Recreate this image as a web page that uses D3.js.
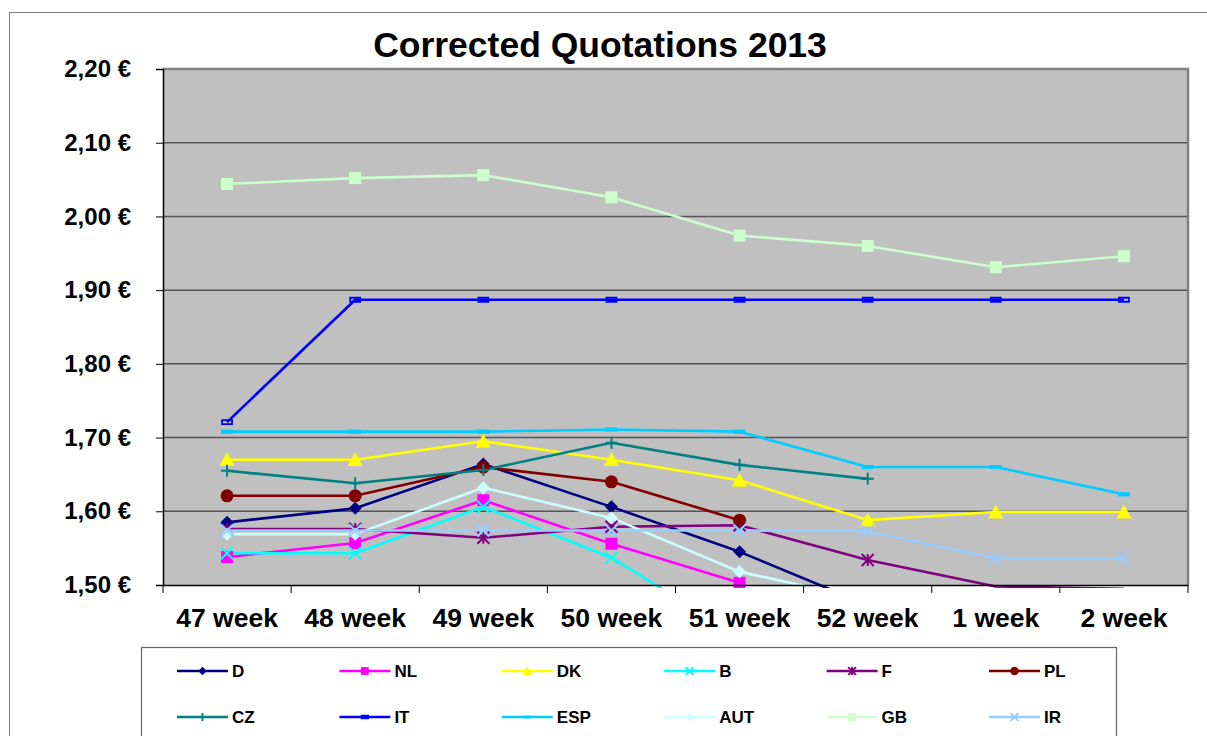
<!DOCTYPE html>
<html><head><meta charset="utf-8">
<script src="https://cdn.jsdelivr.net/npm/d3@7/dist/d3.min.js"></script>
<style>
body{margin:0;background:#fff;}
text{font-family:"Liberation Sans",Arial,sans-serif;font-weight:bold;fill:#000;}
</style></head><body>
<svg id="c" width="1207" height="736"></svg>
<script>
const categories = ["47 week","48 week","49 week","50 week","51 week","52 week","1 week","2 week"];
const yTicks = [1.5,1.6,1.7,1.8,1.9,2.0,2.1,2.2];
const D   = [1.585,1.604,1.664,1.606,1.545,1.473,null,null];
const NL  = [1.538,1.557,1.615,1.556,1.503,null,null,null];
const DK  = [1.670,1.670,1.695,1.670,1.642,1.588,1.599,1.599];
const B   = [1.543,1.543,1.606,1.537,1.430,null,null,null];
const F   = [1.576,1.576,1.564,1.579,1.581,1.534,1.498,1.495];
const PL  = [1.621,1.621,1.660,1.640,1.588,null,null,null];
const CZ  = [1.655,1.638,1.656,1.693,1.663,1.644,null,null];
const IT  = [1.721,1.887,1.887,1.887,1.887,1.887,1.887,1.887];
const ESP = [1.708,1.708,1.708,1.711,1.708,1.660,1.660,1.623];
const AUT = [1.569,1.569,1.632,1.591,1.518,1.480,null,null];
const GB  = [2.044,2.052,2.056,2.026,1.974,1.960,1.931,1.946];
const IR  = [1.574,1.574,1.574,1.574,1.574,1.573,1.536,1.536];

const series = [
  {name:"D",values:D,color:"#000080",marker:"diamond"},
  {name:"NL",values:NL,color:"#FF00FF",marker:"square"},
  {name:"DK",values:DK,color:"#FFFF00",marker:"triangle"},
  {name:"B",values:B,color:"#00FFFF",marker:"x"},
  {name:"F",values:F,color:"#800080",marker:"asterisk"},
  {name:"PL",values:PL,color:"#800000",marker:"circle"},
  {name:"CZ",values:CZ,color:"#008080",marker:"plus"},
  {name:"IT",values:IT,color:"#0000FF",marker:"dashOutline"},
  {name:"ESP",values:ESP,color:"#00CCFF",marker:"dash"},
  {name:"AUT",values:AUT,color:"#CCFFFF",marker:"diamond"},
  {name:"GB",values:GB,color:"#CCFFCC",marker:"square"},
  {name:"IR",values:IR,color:"#99CCFF",marker:"x"}
];

const svg = d3.select("#c");
const L=163,R=1188,T=69,Bt=585;
const x = d3.scaleBand().domain(categories).range([L,R]).padding(0);
const y = d3.scaleLinear().domain([1.5,2.2]).range([Bt,T]);

// outer border
svg.append("rect").attr("x",9.5).attr("y",12.5).attr("width",1230).attr("height",760)
  .attr("fill","none").attr("stroke","#808080").attr("stroke-width",1);

// title
svg.append("text").attr("x",600).attr("y",57).attr("text-anchor","middle")
  .style("font-size","35.5px").text("Corrected Quotations 2013");

// plot bg
svg.append("rect").attr("x",L).attr("y",T).attr("width",R-L).attr("height",Bt-T).attr("fill","#C0C0C0");

// gridlines
svg.append("g").selectAll("line").data(yTicks.filter(v=>v>1.5&&v<2.2)).join("line")
  .attr("x1",L).attr("x2",R).attr("y1",d=>y(d)).attr("y2",d=>y(d))
  .attr("stroke","#555").attr("stroke-width",1.5);

// plot border top/right
svg.append("path").attr("d",`M${L},${T}H${R}V${Bt}`).attr("fill","none")
  .attr("stroke","#808080").attr("stroke-width",2.5);

// clip (lines may show a few pixels under the axis, as in the original)
svg.append("clipPath").attr("id","clip").append("rect")
  .attr("x",L).attr("y",T).attr("width",R-L).attr("height",Bt-T+3);

const cx = c => x(c)+x.bandwidth()/2;

function markerPath(type, s){
  const h=s/2;
  switch(type){
    case "diamond": return `M0,${-h}L${h},0L0,${h}L${-h},0Z`;
    case "square": return `M${-h},${-h}H${h}V${h}H${-h}Z`;
    case "triangle": return `M0,${-h}L${h},${h*0.85}L${-h},${h*0.85}Z`;
    case "x": return `M${-h},${-h}L${h},${h}M${-h},${h}L${h},${-h}`;
    case "asterisk": return `M${-h},${-h}L${h},${h}M${-h},${h}L${h},${-h}M0,${-h}V${h}`;
    case "plus": return `M${-h},0H${h}M0,${-h}V${h}`;
    case "dashOutline": return `M${-h},${-h*0.4}H${h}V${h*0.4}H${-h}Z`;
    case "dash": return `M${-h},${-h*0.35}H${h}V${h*0.35}H${-h}Z`;
  }
}
function drawMarker(g, type, color, s){
  const p = g.append("path").attr("d",markerPath(type,s));
  if(type==="x"||type==="asterisk"||type==="plus"){
    p.attr("fill","none").attr("stroke",color).attr("stroke-width",2);
  } else if(type==="circle"){
    p.remove(); g.append("circle").attr("r",s/2).attr("fill",color);
  } else if(type==="dashOutline"){
    p.attr("fill","none").attr("stroke",color).attr("stroke-width",1.8);
  } else {
    p.attr("fill",color);
  }
}
const mSize = {diamond:13,square:12,triangle:15,x:12,asterisk:12,circle:13,plus:12,dashOutline:10,dash:12};

const plot = svg.append("g").attr("clip-path","url(#clip)");
const line = d3.line().defined(d=>d.v!=null).x(d=>cx(d.c)).y(d=>y(d.v));
series.forEach(s=>{
  const pts = categories.map((c,i)=>({c:c,v:s.values[i]}));
  plot.append("path").datum(pts).attr("d",line).attr("fill","none")
    .attr("stroke",s.color).attr("stroke-width",2.6).attr("stroke-linejoin","round");
});
series.forEach(s=>{
  categories.forEach((c,i)=>{
    const v=s.values[i]; if(v==null || v<1.5) return;
    const g=plot.append("g").attr("transform",`translate(${cx(c)},${y(v)})`);
    drawMarker(g,s.marker,s.color,mSize[s.marker]);
  });
});

// y axis
const yAxis = d3.axisLeft(y).tickValues(yTicks).tickSize(7).tickPadding(25)
  .tickFormat(d=>d3.format(".2f")(d).replace(".",",")+" €");
const ya = svg.append("g").attr("transform",`translate(${L},0)`).call(yAxis);
ya.select(".domain").attr("stroke","#000").attr("stroke-width",1.5);
ya.selectAll(".tick line").attr("stroke","#000");
ya.selectAll("text").style("font-size","24px").style("font-family","'Liberation Sans',Arial,sans-serif").style("font-weight","bold");

// x axis
const xAxis = d3.axisBottom(x).tickSize(0).tickPadding(23);
const xa = svg.append("g").attr("transform",`translate(0,${Bt})`).call(xAxis);
xa.select(".domain").attr("stroke","#000").attr("stroke-width",1.5);
xa.selectAll("text").style("font-size","26.5px").style("font-family","'Liberation Sans',Arial,sans-serif").style("font-weight","bold");
svg.append("g").selectAll("line").data(categories.map(c=>x(c)).concat([R])).join("line")
  .attr("x1",d=>d).attr("x2",d=>d).attr("y1",Bt).attr("y2",Bt+8).attr("stroke","#000");

// legend
svg.append("rect").attr("x",141.5).attr("y",647.5).attr("width",975).attr("height",120)
  .attr("fill","#fff").attr("stroke","#666").attr("stroke-width",1.2);
series.forEach((s,i)=>{
  const col=i%6,row=Math.floor(i/6);
  const lx=177+col*162.4, ly=671+row*46;
  const g=svg.append("g").attr("transform",`translate(${lx},${ly})`);
  g.append("line").attr("x1",0).attr("x2",51).attr("y1",0).attr("y2",0)
    .attr("stroke",s.color).attr("stroke-width",2.6);
  const mg=g.append("g").attr("transform","translate(25.5,0)");
  drawMarker(mg,s.marker,s.color,mSize[s.marker]*0.65);
  g.append("text").attr("x",55).attr("y",6).style("font-size","17px").text(s.name);
});
</script>
</body></html>
